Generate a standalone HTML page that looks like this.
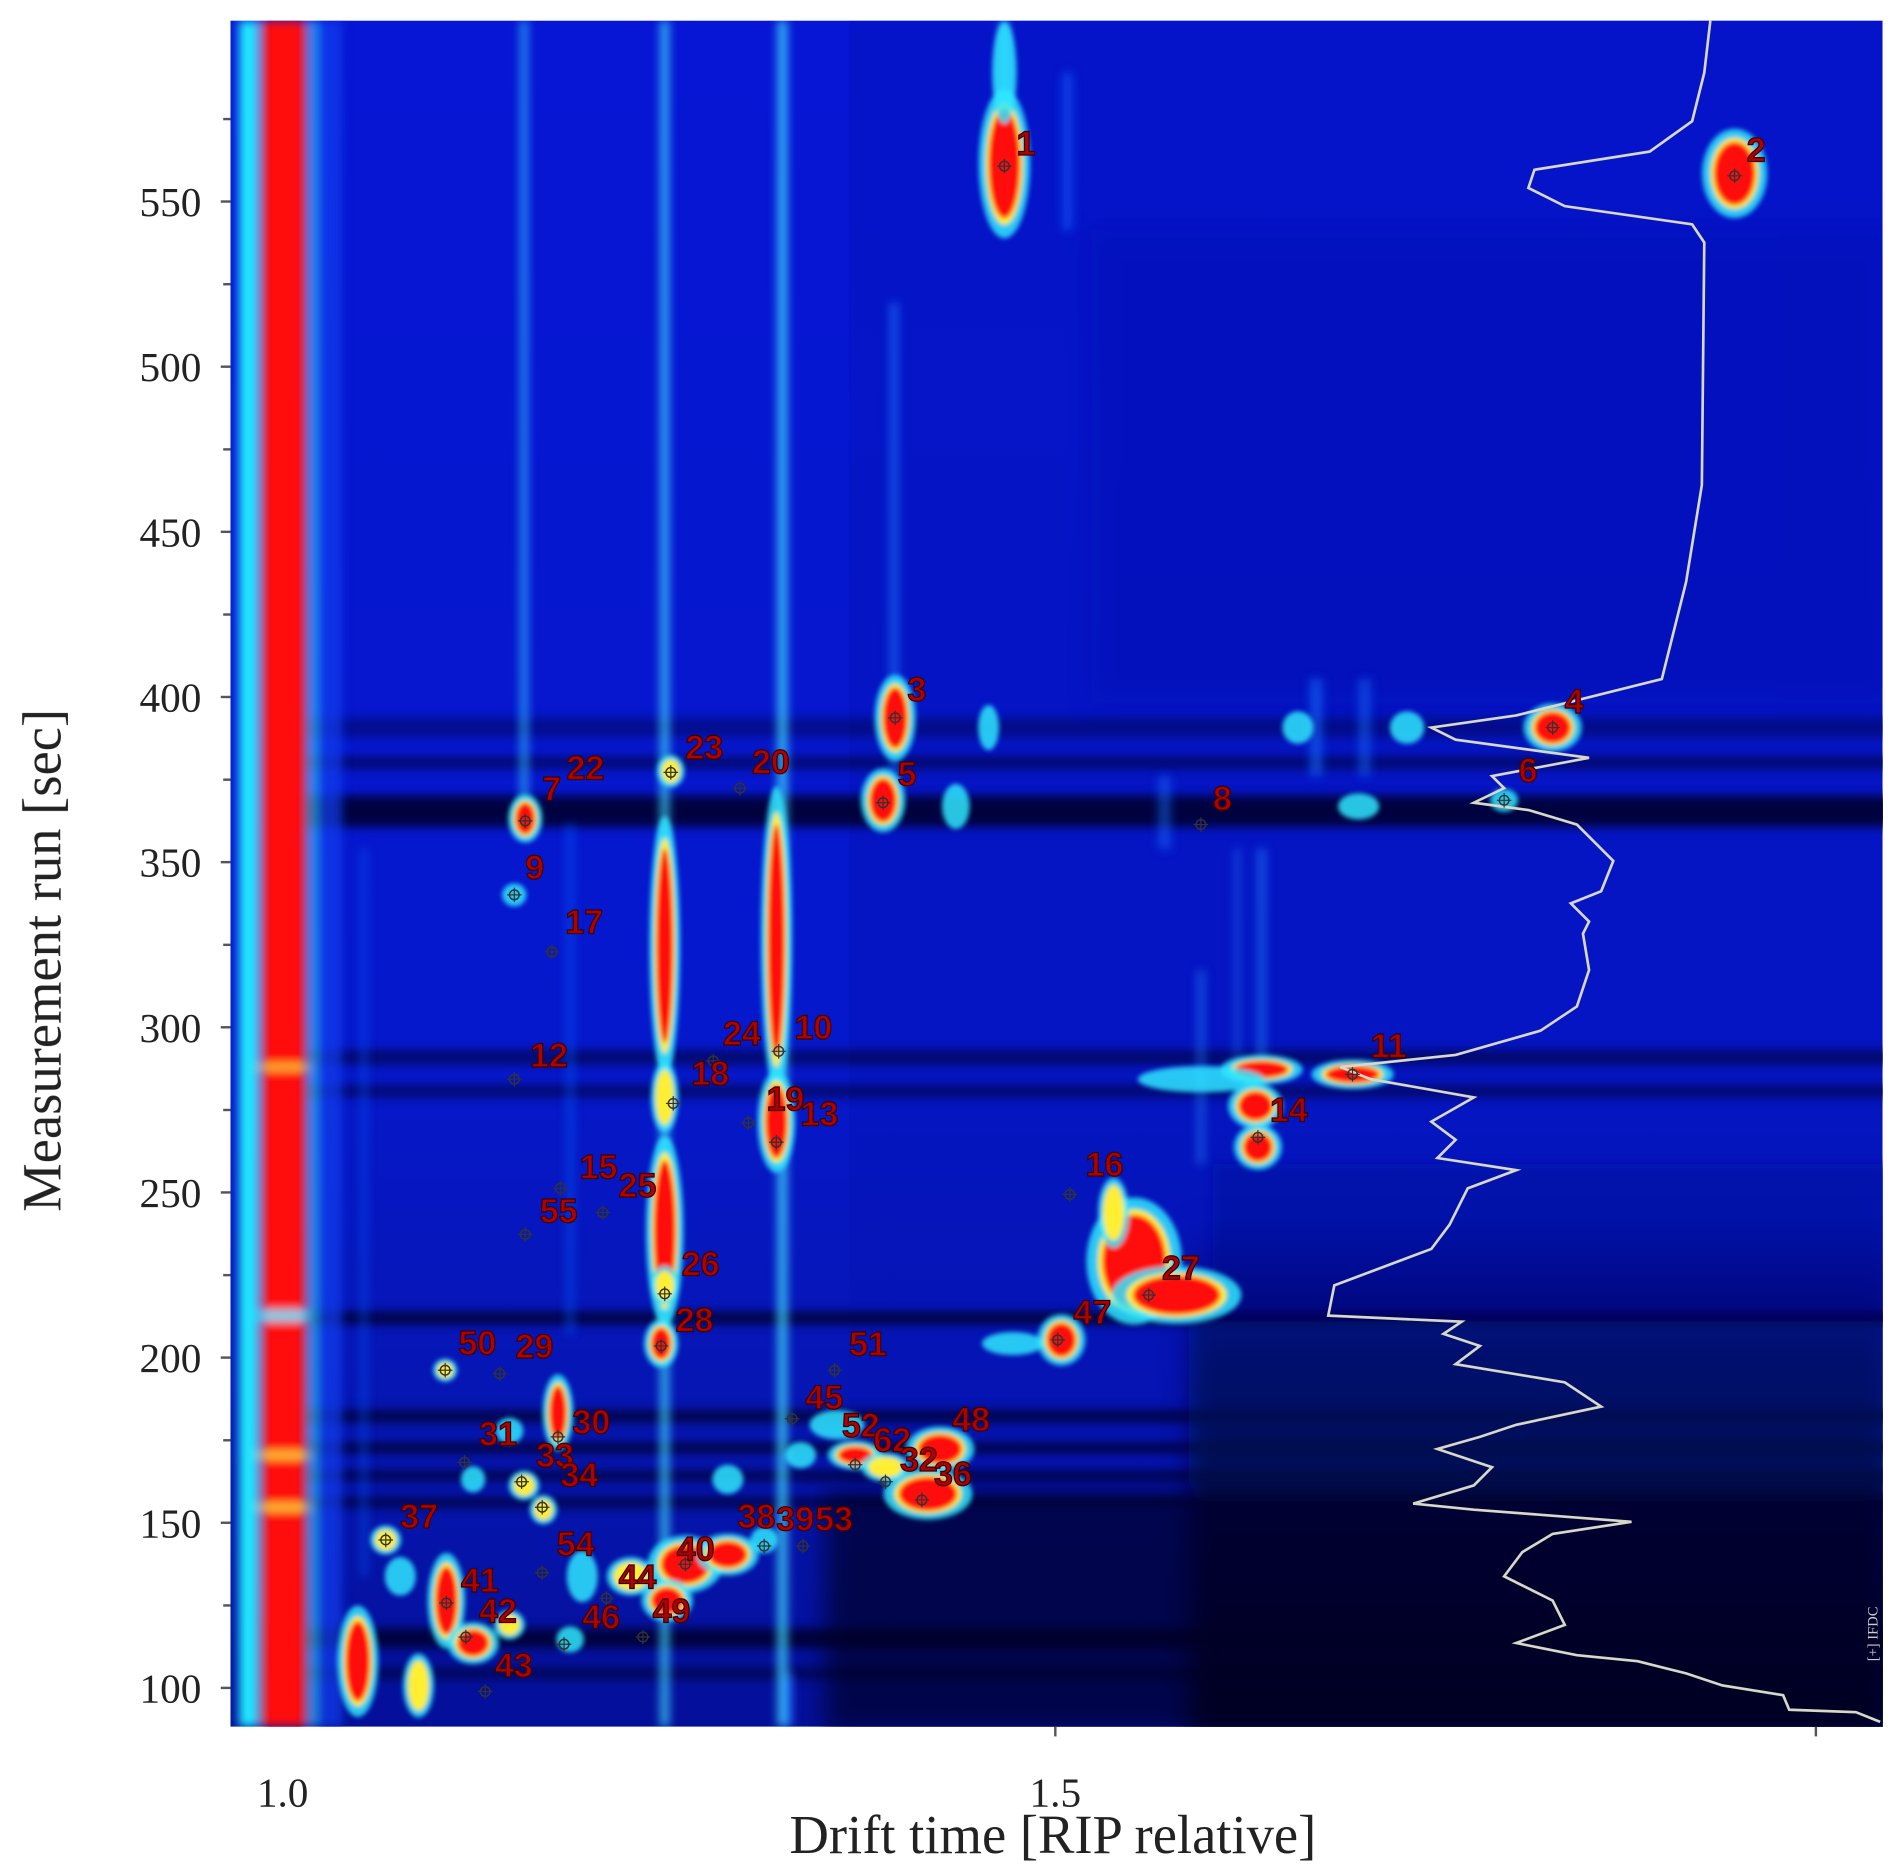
<!DOCTYPE html>
<html><head><meta charset="utf-8"><style>
html,body{margin:0;padding:0;background:#fff;}
svg{display:block;}
</style></head><body>
<svg id="s" width="1902" height="1871" viewBox="0 0 1568 1543" preserveAspectRatio="none" xmlns="http://www.w3.org/2000/svg">
<defs>
<filter id="b4" x="-50%" y="-50%" width="200%" height="200%"><feGaussianBlur stdDeviation="4"/></filter>
<filter id="b8" x="-50%" y="-50%" width="200%" height="200%"><feGaussianBlur stdDeviation="10"/></filter>
<filter id="b2" x="-50%" y="-50%" width="200%" height="200%"><feGaussianBlur stdDeviation="2"/></filter>
<linearGradient id="bg" x1="0" y1="0" x2="0" y2="1">
<stop offset="0" stop-color="#0616d4"/><stop offset="0.6" stop-color="#0618cc"/><stop offset="0.8" stop-color="#0616b4"/><stop offset="1" stop-color="#04109a"/></linearGradient>
<linearGradient id="dk" x1="0" y1="0" x2="0" y2="1">
<stop offset="0" stop-color="#030a70" stop-opacity="0"/><stop offset="0.25" stop-color="#030a60" stop-opacity="0.8"/><stop offset="1" stop-color="#000418" stop-opacity="1"/></linearGradient>
<clipPath id="cp"><rect x="190" y="17" width="1362" height="1407"/></clipPath>
</defs>
<g clip-path="url(#cp)">
<rect x="190" y="17" width="1362" height="1407" fill="url(#bg)"/>
<rect x="700" y="17" width="852" height="1407" fill="#0410b0" opacity="0.3"/>
<rect x="900" y="190" width="660" height="390" fill="#020cb0" opacity="0.4" filter="url(#b8)"/>
<g id="bands" filter="url(#b4)"></g>
<rect x="980" y="1000" width="580" height="430" fill="url(#dk)" filter="url(#b8)"/>
<rect x="680" y="1230" width="880" height="200" fill="#000628" opacity="0.7" filter="url(#b8)"/>
<g id="streaks" filter="url(#b4)"></g>
<g id="spots" filter="url(#b2)"></g>
<polyline id="trace" fill="none" stroke="#d8d8c8" stroke-width="2.2"/>
<g id="marks"></g>
<g id="labs" font-family="Liberation Sans, sans-serif" font-weight="bold" font-size="28" fill="#b00000" stroke="#3a0000" stroke-width="1"></g>
<text x="1548" y="1370" transform="rotate(-90 1548 1370)" font-family="Liberation Serif, serif" font-size="12" fill="#ccc">[+]  IFDC</text>
</g>
<g font-family="Liberation Serif, serif" font-size="34" fill="#222" text-anchor="end" id="yt"></g>
<g stroke="#555" stroke-width="2" id="ytk"></g>
<text x="233" y="1490" font-family="Liberation Serif, serif" font-size="34" fill="#222" text-anchor="middle">1.0</text>
<text x="870" y="1490" font-family="Liberation Serif, serif" font-size="34" fill="#222" text-anchor="middle">1.5</text>
<line x1="870" y1="1424" x2="870" y2="1432" stroke="#555" stroke-width="2"/>
<line x1="1497" y1="1424" x2="1497" y2="1432" stroke="#555" stroke-width="2"/>
<text x="868" y="1528" font-family="Liberation Serif, serif" font-size="45" fill="#222" text-anchor="middle">Drift time [RIP relative]</text>
<text x="50" y="792" transform="rotate(-90 50 792)" font-family="Liberation Serif, serif" font-size="45" fill="#222" text-anchor="middle">Measurement run [sec]</text>
</svg>
<script>
var NS="http://www.w3.org/2000/svg";
function el(p,t,a){var e=document.createElementNS(NS,t);for(var k in a)e.setAttribute(k,a[k]);document.getElementById(p).appendChild(e);return e;}
for(var v=100;v<=550;v+=50){var y=1392-(v-100)*136.2/50;
 var t=el("yt","text",{x:166,y:y+12});t.textContent=v;
 el("ytk","line",{x1:182,y1:y,x2:190,y2:y});
 el("ytk","line",{x1:184,y1:y-68,x2:190,y2:y-68});}
[[592,16,0.4],[624,10,0.6],[656,26,0.9],[866,12,0.6],[895,10,0.6],[1082,10,0.9],[1163,10,0.8],[1190,8,0.9],[1213,8,0.8],[1235,8,0.8],[1343,16,0.9],[1375,10,0.6]].forEach(function(b){
 el("bands","rect",{x:250,y:b[0],width:1310,height:b[1],fill:"#000430",opacity:b[2]});});
el("bands","rect",{x:1000,y:960,width:560,height:120,fill:"#0210a0",opacity:0.6});
[[205,17,1424,16,"#20e8ff",1],[258,17,1424,6,"#30d0ff",0.8],[272,17,1424,20,"#1040f0",0.7],
 [432,17,680,5,"#30c0ff",0.9],[548,17,1424,6,"#40e0ff",0.9],[645,17,1424,7,"#40e0ff",0.9],
 [737,250,640,5,"#2080ff",0.8],[828,17,120,6,"#40d0ff",0.8],[880,60,190,8,"#1060ff",0.6],
 [650,1380,1424,6,"#2060ff",0.9],[1040,700,960,6,"#2090ff",0.6],[1020,700,880,4,"#2090ff",0.5],
 [470,680,1100,5,"#1060ff",0.6],[300,700,1300,5,"#1060ff",0.5],[990,800,960,6,"#2090ff",0.5],
 [1085,560,640,10,"#1870ff",0.6],[1125,560,640,10,"#1870ff",0.5],[960,640,700,10,"#1870ff",0.5]].forEach(function(s){
 el("streaks","rect",{x:s[0]-s[3]/2,y:s[1],width:s[3],height:s[2]-s[1],fill:s[4],opacity:s[5]});});
el("streaks","rect",{x:216,y:17,width:36,height:1407,fill:"#ff1010"});
[[880,4,"#ffe040"],[1085,8,"#40e0ff"],[1200,5,"#ffe040"],[1243,5,"#ffe040"]].forEach(function(g){el("streaks","rect",{x:214,y:g[0]-g[1]/2,width:40,height:g[1],fill:g[2]});});
function spot(x,y,rx,ry,l){
 el("spots","ellipse",{cx:x,cy:y,rx:rx*1.4+3,ry:ry*1.3+3,fill:"#30e8ff",opacity:0.85});
 if(l>=2)el("spots","ellipse",{cx:x,cy:y,rx:rx*1.12+1,ry:ry*1.1+1,fill:"#ffee30"});
 if(l>=3)el("spots","ellipse",{cx:x,cy:y,rx:rx,ry:ry,fill:"#ff1010"});}
[[828,135,13,45,3],[828,60,5,30,1],[1430,143,17,26,3],[738,592,10,25,3],[728,660,11,18,3],[788,665,6,12,1],
 [1280,600,15,13,3],[1240,660,6,5,1],[1120,665,10,6,1],[1160,600,8,8,1],[1070,600,7,8,1],[815,600,4,12,1],
 [433,675,8,13,3],[424,738,5,5,1],[553,636,6,8,2],[548,780,7,80,3],[548,905,6,20,2],[548,1015,9,58,3],
 [640,775,7,95,3],[640,925,9,30,3],[1040,882,22,7,3],[1115,886,22,7,3],[990,890,35,6,1],
 [1035,912,14,12,3],[1037,946,12,12,3],[935,1040,26,38,3],[970,1068,36,16,3],[918,1000,7,20,2],
 [875,1105,12,14,3],[835,1108,16,5,1],[545,1108,8,13,3],[548,1060,6,10,2],[460,1165,7,22,3],
 [765,1232,24,14,3],[775,1195,18,12,3],[705,1200,14,7,3],[690,1175,14,7,1],[730,1210,12,7,2],
 [565,1290,20,16,3],[600,1282,16,11,3],[550,1320,13,11,3],[520,1300,12,10,2],
 [368,1320,9,28,3],[390,1355,13,11,3],[295,1370,10,33,3],[345,1390,7,18,2],[318,1270,7,7,2],
 [432,1225,7,7,2],[448,1245,6,7,2],[367,1130,5,5,2],[420,1340,7,7,2],[470,1352,6,6,1],[330,1300,7,10,1],
 [480,1300,7,14,1],[630,1270,6,6,1],[660,1200,7,6,1],[600,1220,7,7,1],[390,1220,5,6,1],[420,1180,6,6,1]
].forEach(function(s){spot.apply(null,s);});
document.getElementById("trace").setAttribute("points","1410,17 1405,60 1395,100 1360,125 1265,140 1260,155 1290,170 1395,185 1405,200 1403,400 1390,480 1370,560 1250,590 1180,600 1200,610 1310,625 1230,640 1240,650 1215,662 1260,668 1300,680 1330,710 1320,735 1295,745 1310,760 1305,770 1310,800 1300,830 1270,850 1200,870 1105,880 1130,890 1215,905 1180,925 1200,940 1185,955 1250,965 1210,980 1195,1010 1180,1030 1100,1060 1095,1085 1205,1090 1190,1100 1220,1110 1200,1125 1290,1140 1320,1160 1250,1175 1220,1185 1185,1195 1230,1210 1215,1225 1165,1240 1215,1245 1345,1255 1280,1265 1255,1280 1240,1300 1280,1320 1290,1340 1250,1355 1300,1365 1350,1370 1390,1380 1420,1390 1470,1398 1475,1410 1530,1412 1550,1420");
[[828,137],[1430,145],[738,592],[728,662],[1280,600],[1240,660],[433,677],[424,738],[553,637],[610,650],[990,680],[455,785],[424,890],[588,875],[642,867],[1115,886],[555,910],[617,926],[640,942],[1037,938],[462,980],[497,1000],[433,1018],[882,985],[548,1067],[947,1068],[545,1110],[872,1105],[367,1130],[412,1133],[688,1130],[653,1170],[460,1185],[383,1206],[430,1222],[447,1243],[705,1208],[730,1222],[760,1237],[318,1270],[630,1275],[662,1275],[447,1297],[565,1290],[500,1318],[368,1322],[384,1350],[465,1356],[530,1350],[400,1395]].forEach(function(m){
 el("marks","circle",{cx:m[0],cy:m[1],r:4,fill:"none",stroke:"#333","stroke-width":1.2});
 el("marks","path",{d:"M"+(m[0]-6)+" "+m[1]+"h12M"+m[0]+" "+(m[1]-6)+"v12",stroke:"#333","stroke-width":1});});
[["1",838,128],["2",1440,133],["3",748,578],["4",1290,588],["5",740,648],["6",1252,645],["7",447,660],["22",467,643],["23",565,626],["20",620,638],["8",1000,668],["9",433,725],["17",466,770],["12",437,880],["24",596,862],["10",655,857],["11",1130,872],["18",570,895],["19",632,916],["13",660,928],["14",1047,925],["15",478,972],["25",510,987],["55",445,1008],["16",895,970],["26",562,1052],["27",958,1055],["28",557,1098],["47",885,1092],["50",378,1117],["29",425,1120],["51",700,1118],["45",664,1162],["30",472,1182],["52",694,1185],["62",720,1197],["48",785,1180],["31",395,1192],["33",442,1210],["34",462,1226],["32",742,1213],["36",770,1225],["37",330,1260],["38",608,1260],["39",640,1262],["53",672,1262],["54",459,1283],["40",558,1287],["44",510,1310],["41",380,1313],["42",395,1338],["46",480,1343],["49",538,1338],["43",408,1383]].forEach(function(l){
 var t=el("labs","text",{x:l[1],y:l[2]});t.textContent=l[0];});
</script>
</body></html>
